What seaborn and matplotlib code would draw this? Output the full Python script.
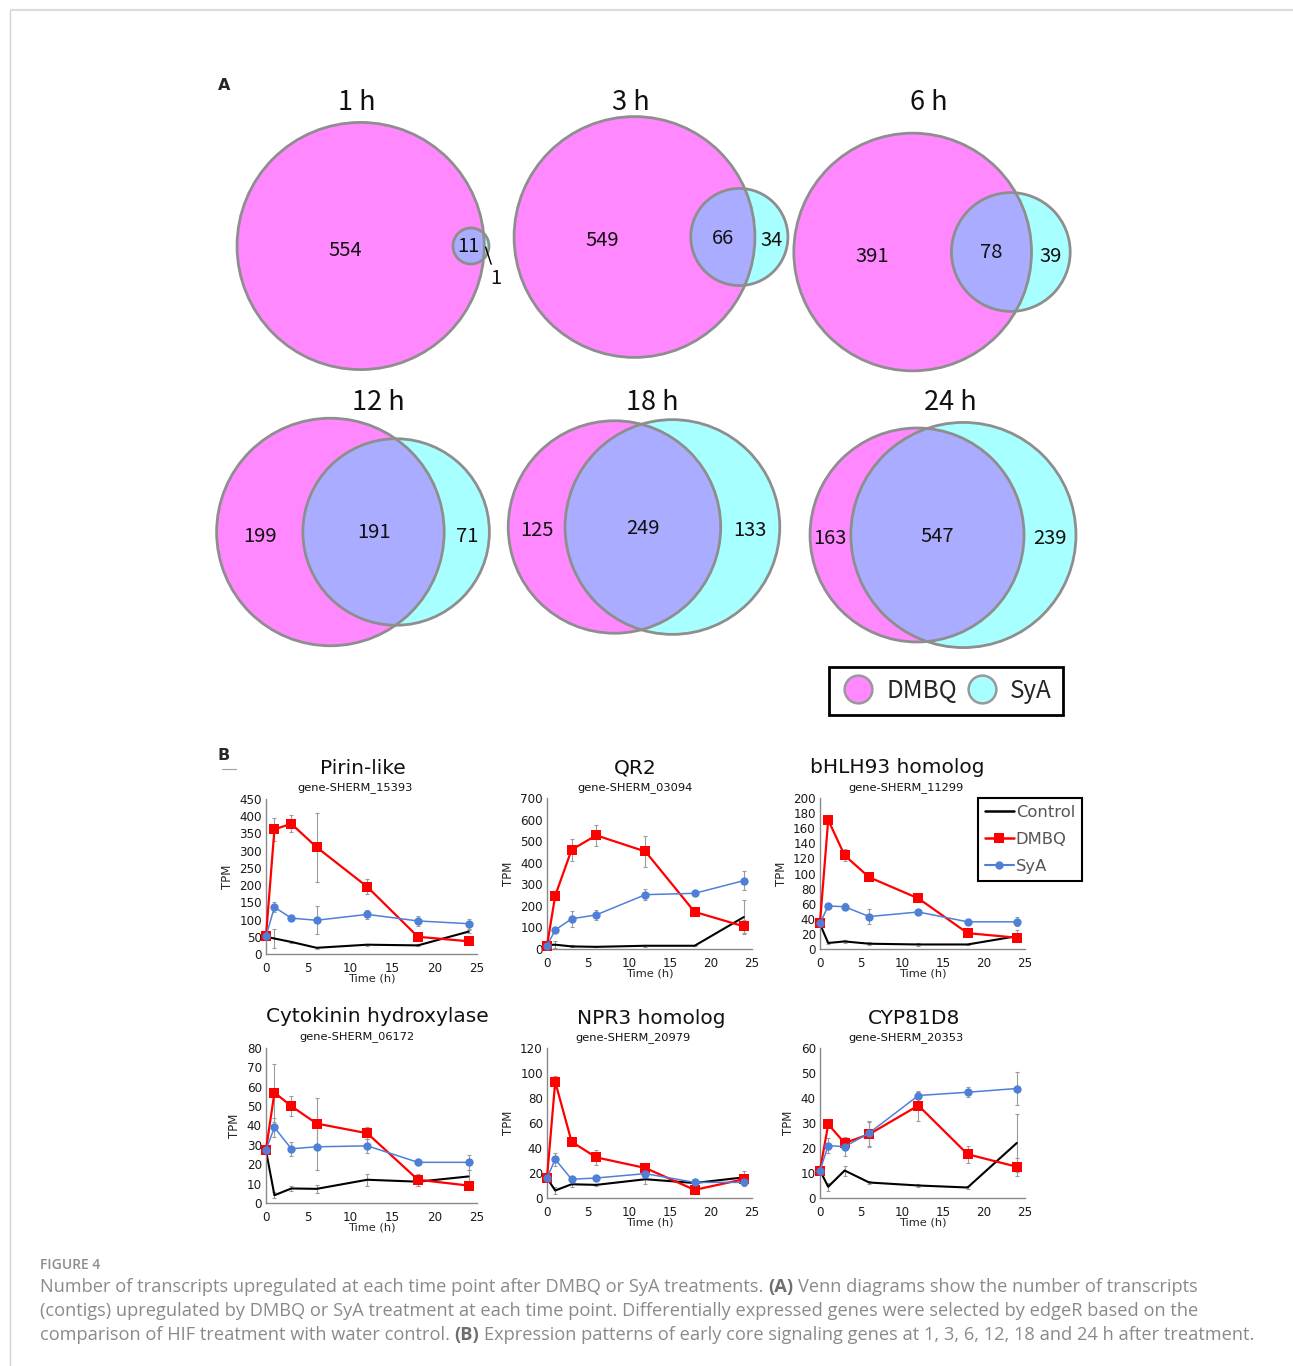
#!/usr/bin/env python3
"""Figure 4: Venn diagrams of upregulated transcripts (A) and TPM time courses (B)."""

import numpy as np
import pandas as pd
import matplotlib

matplotlib.use("Agg")
import matplotlib.pyplot as plt
import seaborn as sns
from matplotlib.patches import Circle
from matplotlib.lines import Line2D

W, H = 1293, 1366

# ---- Panel A: transcript counts per time point ----
venn_titles = ["1 h", "3 h", "6 h", "12 h", "18 h", "24 h"]
dmbq_only = [554, 549, 391, 199, 125, 163]
shared = [11, 66, 78, 191, 249, 547]
sya_only = [1, 34, 39, 71, 133, 239]

# ---- Panel B: expression time courses (TPM) ----
time_h = [0, 1, 3, 6, 12, 18, 24]
gene_names = ["Pirin-like", "QR2", "bHLH93 homolog",
              "Cytokinin hydroxylase", "NPR3 homolog", "CYP81D8"]
gene_ids = ["gene-SHERM_15393", "gene-SHERM_03094", "gene-SHERM_11299",
            "gene-SHERM_06172", "gene-SHERM_20979", "gene-SHERM_20353"]
y_max = [450, 700, 200, 80, 120, 60]
y_step = [50, 100, 20, 10, 20, 10]

control_tpm = [
    [50, 45, 35, 18, 27, 25, 65],
    [18, 20, 12, 10, 15, 15, 148],
    [33, 8, 10, 7, 6, 6, 17],
    [27, 4, 7.5, 7.3, 12, 11, 13.7],
    [16, 6, 11, 10.5, 15, 12, 16.5],
    [11, 4.5, 11, 6.2, 5, 4.2, 22],
]
dmbq_tpm = [
    [52, 362, 378, 310, 195, 50, 37],
    [15, 247, 460, 527, 452, 172, 105],
    [35, 171, 124, 95, 67, 21, 15],
    [27.5, 57, 50, 41, 36, 12, 9],
    [16, 93, 45, 32.5, 24, 6.5, 15],
    [11, 29.5, 22, 25.5, 37, 17.5, 12.5],
]
sya_tpm = [
    [52, 136, 104, 98, 115, 96, 88],
    [15, 88, 140, 158, 252, 258, 317],
    [34, 57, 56, 43, 49, 36, 36],
    [27.5, 39, 28, 29, 29.5, 21, 21],
    [16, 31, 15, 16, 19.5, 12.5, 12.5],
    [11, 21, 20.5, 26, 41, 42.3, 43.8],
]
control_err = [
    [0, 27, 4, 3, 3, 3, 5],
    [0, 15, 5, 3, 5, 3, 80],
    [0, 1, 2, 2, 2, 1, 8],
    [0, 1.5, 1.5, 2, 3, 2, 3.5],
    [0, 3, 2, 1, 4, 1, 5],
    [0, 1.5, 2, 0.5, 0.5, 0.5, 11.5],
]
dmbq_err = [
    [0, 33, 25, 100, 22, 8, 4],
    [0, 20, 52, 50, 70, 10, 30],
    [0, 2, 8, 2, 4, 2, 3],
    [0, 15, 5, 13, 3, 3, 1],
    [0, 5, 2, 6, 2, 1, 3],
    [0, 1, 2.5, 5, 6, 3.5, 3.5],
]
sya_err = [
    [0, 15, 5, 40, 12, 15, 14],
    [0, 10, 38, 25, 25, 8, 45],
    [0, 3, 5, 10, 3, 3, 6],
    [0, 5, 3.5, 12, 3.5, 1.5, 4],
    [0, 5, 2, 2, 2, 1, 3],
    [0, 3, 3.5, 5, 1.5, 2, 6.5],
]

PINK = "#FF88FF"
CYAN = "#A8FFFF"
LAV = "#AAADFF"
EDGE = "#8E8E8E"
RED = "#FF0000"
BLUE = "#4F80D8"

VENN_FONT = ["Noto Sans CJK JP", "DejaVu Sans"]
CHART_FONT = ["DejaVu Sans"]
CAP_FONT = ["Open Sans", "DejaVu Sans"]

sns.set_style("white")
plt.rcParams["font.family"] = CHART_FONT


def px_rect(x0, y0, x1, y1):
    return [x0 / W, 1 - y1 / H, (x1 - x0) / W, (y1 - y0) / H]


def lens_area(r1, r2, d):
    if d >= r1 + r2:
        return 0.0
    if d <= abs(r1 - r2):
        return np.pi * min(r1, r2) ** 2
    a1 = r1 ** 2 * np.arccos((d ** 2 + r1 ** 2 - r2 ** 2) / (2 * d * r1))
    a2 = r2 ** 2 * np.arccos((d ** 2 + r2 ** 2 - r1 ** 2) / (2 * d * r2))
    k = 0.5 * np.sqrt((-d + r1 + r2) * (d + r1 - r2) * (d - r1 + r2) * (d + r1 + r2))
    return a1 + a2 - k


def draw_venn(ax, a_only, ab, b_only, scale=15300.0):
    n = a_only + ab + b_only
    r1 = np.sqrt((a_only + ab) * scale / n)
    r2 = np.sqrt((b_only + ab) * scale / n)
    target = np.pi * ab * scale / n
    lo, hi = abs(r1 - r2), r1 + r2
    for _ in range(80):
        mid = 0.5 * (lo + hi)
        if lens_area(r1, r2, mid) > target:
            lo = mid
        else:
            hi = mid
    d = 0.5 * (lo + hi)
    left, right = -r1, max(r1, d + r2)
    x1 = -(left + right) / 2
    x2 = x1 + d

    ax.add_patch(Circle((x1, 0), r1, fc=PINK, ec="none", clip_on=False))
    ax.add_patch(Circle((x2, 0), r2, fc=CYAN, ec="none", clip_on=False))
    ov = Circle((x2, 0), r2, fc=LAV, ec="none")
    ax.add_patch(ov)
    ov.set_clip_path(Circle((x1, 0), r1, transform=ax.transData))
    for cx, r in [(x1, r1), (x2, r2)]:
        ax.add_patch(Circle((cx, 0), r, fill=False, ec=EDGE, lw=2, clip_on=False))

    kw = dict(ha="center", va="center", fontsize=14.5, family=VENN_FONT, color="#111111")
    ty = -4
    xa = ((x1 - r1) + (x2 - r2)) / 2
    xab = ((x2 - r2) + (x1 + r1)) / 2
    xb = ((x1 + r1) + (x2 + r2)) / 2
    ax.text(xa, ty, str(a_only), **kw)
    ax.text(xab, ty + 3, str(ab), **kw)
    if (x2 + r2) - (x1 + r1) < 15:
        ax.annotate(str(b_only), xy=(xb - 1, -1), xytext=(10, -31),
                    textcoords="offset pixels",
                    arrowprops=dict(arrowstyle="-", color="black", lw=1,
                                    shrinkA=0, shrinkB=0, relpos=(0.2, 1.0)),
                    **kw)
    else:
        ax.text(xb, ty, str(b_only), **kw)


fig = plt.figure(figsize=(W / 100, H / 100), dpi=100)
fig.patch.set_facecolor("white")

# background axes in pixel coordinates: frame, panel letters, caption
bg = fig.add_axes([0, 0, 1, 1])
bg.set_xlim(0, W)
bg.set_ylim(H, 0)
bg.axis("off")
bg.plot([10, W], [10, 10], color="#DCDCDC", lw=1.6, solid_capstyle="butt")
bg.plot([10, 10], [10, H], color="#D2D2D2", lw=1.0, solid_capstyle="butt")
bg.text(224, 85, "A", fontsize=11.5, weight="bold", ha="center", va="center")
bg.text(224, 755, "B", fontsize=11.5, weight="bold", ha="center", va="center")
bg.plot([222, 236], [769, 769], color="#A0A0A0", lw=0.8)

# ---- Panel A ----
venn_centers = [(363, 246), (651, 237), (932, 252), (353, 532), (644, 527), (943, 535)]
venn_title_pos = [(357, 102), (631, 102), (929, 102), (378, 402), (652, 402), (950, 402)]
for i, (cx, cy) in enumerate(venn_centers):
    ax = fig.add_axes(px_rect(cx - 150, cy - 150, cx + 150, cy + 150))
    ax.set_xlim(-150, 150)
    ax.set_ylim(-150, 150)
    ax.axis("off")
    draw_venn(ax, dmbq_only[i], shared[i], sya_only[i])
    tx, ty = venn_title_pos[i]
    bg.text(tx, ty, venn_titles[i], fontsize=19.5, family=VENN_FONT,
            ha="center", va="center", color="#111111")

venn_handles = [
    Line2D([], [], ls="none", marker="o", ms=20, mfc=PINK, mec="#999999", mew=1.8),
    Line2D([], [], ls="none", marker="o", ms=20, mfc=CYAN, mec="#999999", mew=1.8),
]
leg_a = fig.legend(venn_handles, ["DMBQ", "SyA"], ncol=2, loc="upper left",
                   bbox_to_anchor=(829 / W, 1 - 667 / H), fancybox=False,
                   edgecolor="black", framealpha=1, borderpad=0.45,
                   handletextpad=0.4, columnspacing=0.3, handlelength=1.5,
                   borderaxespad=0, prop={"family": VENN_FONT, "size": 17.5})
leg_a.get_frame().set_linewidth(2)

# ---- Panel B ----
line_boxes = [(266, 799, 477, 954), (547, 798, 752, 949), (820, 798, 1025, 949),
              (266, 1048, 477, 1203), (547, 1048, 752, 1198), (820, 1048, 1025, 1198)]
title_x = [0.46, 0.43, 0.375, 0.53, 0.51, 0.46]
sub_x = [0.42, 0.43, 0.42, 0.43, 0.42, 0.42]

for g in range(len(gene_names)):
    ax = fig.add_axes(px_rect(*line_boxes[g]))
    df = pd.DataFrame({
        "time": time_h * 3,
        "tpm": control_tpm[g] + dmbq_tpm[g] + sya_tpm[g],
        "err": control_err[g] + dmbq_err[g] + sya_err[g],
        "treatment": ["Control"] * 7 + ["DMBQ"] * 7 + ["SyA"] * 7,
    })
    for name, sub in df.groupby("treatment"):
        ax.errorbar(sub["time"], sub["tpm"], yerr=sub["err"], fmt="none",
                    ecolor="#9C9C9C", elinewidth=0.8, capsize=1.6, capthick=0.8,
                    zorder=1.5, clip_on=False)
    sns.lineplot(data=df[df.treatment == "Control"], x="time", y="tpm", ax=ax,
                 color="black", lw=1.5, legend=False, zorder=2, clip_on=False)
    sns.lineplot(data=df[df.treatment == "DMBQ"], x="time", y="tpm", ax=ax,
                 color=RED, lw=1.6, marker="s", markersize=6.5, markeredgewidth=0,
                 legend=False, zorder=3, clip_on=False)
    sns.lineplot(data=df[df.treatment == "SyA"], x="time", y="tpm", ax=ax,
                 color=BLUE, lw=1.1, marker="o", markersize=6, markeredgewidth=0,
                 legend=False, zorder=4, clip_on=False)

    ax.set_xlim(0, 25)
    ax.set_ylim(0, y_max[g])
    ax.set_xticks(range(0, 26, 5))
    ax.set_yticks(np.arange(0, y_max[g] + 1, y_step[g]))
    ax.tick_params(axis="both", length=0, labelsize=8.6, colors="#1A1A1A")
    ax.tick_params(axis="x", pad=6)
    ax.tick_params(axis="y", pad=3)
    ax.set_xlabel("Time (h)", fontsize=8.2, labelpad=-1)
    ax.set_ylabel("TPM", fontsize=8.5, labelpad=4)
    ax.set_facecolor("none")
    sns.despine(ax=ax)
    for side in ["left", "bottom"]:
        ax.spines[side].set_color("#8A8A8A")
        ax.spines[side].set_linewidth(1.0)
    ax.text(title_x[g], 1.0 + 31 / 155, gene_names[g], transform=ax.transAxes,
            ha="center", va="center", fontsize=14.5, color="#111111")
    ax.text(sub_x[g], 1.0 + 11 / 155, gene_ids[g], transform=ax.transAxes,
            ha="center", va="center", fontsize=8.2, color="#111111")

leg_handles = [
    Line2D([], [], color="black", lw=1.8),
    Line2D([], [], color=RED, lw=1.8, marker="s", ms=6.5, mew=0),
    Line2D([], [], color=BLUE, lw=1.5, marker="o", ms=6, mew=0),
]
leg_b = fig.legend(leg_handles, ["Control", "DMBQ", "SyA"], loc="upper left",
                   bbox_to_anchor=(978 / W, 1 - 798 / H), fancybox=False,
                   edgecolor="black", framealpha=1, fontsize=11.8,
                   labelcolor="#555555", handlelength=1.8, handletextpad=0.1,
                   borderpad=0.4, labelspacing=0.75, borderaxespad=0)
leg_b.get_frame().set_linewidth(1.5)

# ---- Caption ----
cap_size = 13.15
cap_color = "#8A8A8A"
bg.text(40, 1269, "FIGURE 4", fontsize=10, weight="semibold", color="#8C8C8C",
        family=CAP_FONT, va="baseline", ha="left")
caption_lines = [
    [("Number of transcripts upregulated at each time point after DMBQ or SyA treatments.", "normal"),
     ("(A)", "bold"), ("Venn diagrams show the number of transcripts", "normal")],
    [("(contigs) upregulated by DMBQ or SyA treatment at each time point. Differentially "
      "expressed genes were selected by edgeR based on the", "normal")],
    [("comparison of HIF treatment with water control.", "normal"), ("(B)", "bold"),
     ("Expression patterns of early core signaling genes at 1, 3, 6, 12, 18 and 24 h after treatment.",
      "normal")],
]
baselines = [1292, 1316, 1340]
space = 0.26 * cap_size
for line, base in zip(caption_lines, baselines):
    prev = None
    for txt, wt in line:
        if prev is None:
            prev = bg.text(40, base, txt, fontsize=cap_size, weight=wt, color=cap_color,
                           family=CAP_FONT, va="baseline", ha="left")
        else:
            prev = bg.annotate(txt, xy=(1, 0), xycoords=prev, xytext=(space, 0),
                               textcoords="offset points", fontsize=cap_size, weight=wt,
                               color="#6E6E6E" if wt == "bold" else cap_color,
                               family=CAP_FONT, va="bottom", ha="left")

fig.savefig("out.png", dpi=100, facecolor="white")
plt.close(fig)
